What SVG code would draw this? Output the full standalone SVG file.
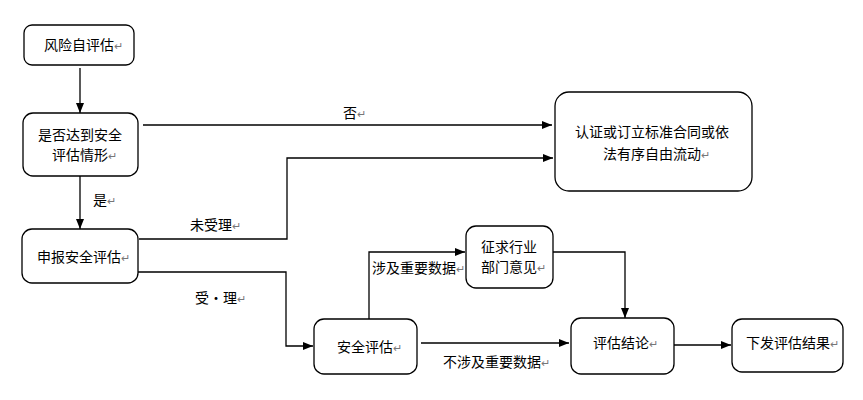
<svg xmlns="http://www.w3.org/2000/svg" width="863" height="400" viewBox="0 0 863 400">
<style>
.box{fill:#fff;stroke:#000;stroke-width:1.3}
.t{font-family:"Noto Sans CJK SC","Noto Sans",sans-serif;font-size:14px;fill:#000}
.r{font-size:11px;fill:#777}
.c{fill:none;stroke:#000;stroke-width:1.3}
</style>
<defs>
<marker id="ah" viewBox="0 0 10 10" refX="10" refY="5" markerWidth="10" markerHeight="10" markerUnits="userSpaceOnUse" orient="auto">
<path d="M0,1 L10,5 L0,9 z" fill="#000"/>
</marker>
</defs>
<rect width="863" height="400" fill="#fff"/>
<g id="connectors">
<path class="c" d="M80,68 V113" marker-end="url(#ah)"/>
<path class="c" d="M143,125 H552" marker-end="url(#ah)"/>
<path class="c" d="M80,176 V229" marker-end="url(#ah)"/>
<path class="c" d="M139,239 H287 V158 H553" marker-end="url(#ah)"/>
<path class="c" d="M138,272 H286 V346 H313" marker-end="url(#ah)"/>
<path class="c" d="M369,319 V252 H465" marker-end="url(#ah)"/>
<path class="c" d="M553,252 H625 V318" marker-end="url(#ah)"/>
<path class="c" d="M421,343 H569" marker-end="url(#ah)"/>
<path class="c" d="M674,345 H731" marker-end="url(#ah)"/>
<text class="t" x="343" y="118">否<tspan class="r">↵</tspan></text>
<text class="t" x="93" y="205">是<tspan class="r">↵</tspan></text>
<text class="t" x="190" y="230">未受理<tspan class="r">↵</tspan></text>
<text class="t" x="195" y="303">受·理<tspan class="r">↵</tspan></text>
<text class="t" x="372" y="273">涉及重要数据<tspan class="r">↵</tspan></text>
<text class="t" x="443" y="367">不涉及重要数据<tspan class="r">↵</tspan></text>
</g>
<g id="n1">
<rect class="box" x="24" y="25" width="110" height="40" rx="8"/>
<text class="t" x="44" y="50">风险自评估<tspan class="r">↵</tspan></text>
</g>
<g id="n2">
<rect class="box" x="23" y="113" width="115" height="63" rx="10"/>
<text class="t" x="38" y="140">是否达到安全</text>
<text class="t" x="52" y="160">评估情形<tspan class="r">↵</tspan></text>
</g>
<g id="n3">
<rect class="box" x="22" y="229" width="116" height="54" rx="10"/>
<text class="t" x="37" y="262">申报安全评估<tspan class="r">↵</tspan></text>
</g>
<g id="n4">
<rect class="box" x="314" y="319" width="103" height="55" rx="10"/>
<text class="t" x="337" y="352">安全评估<tspan class="r">↵</tspan></text>
</g>
<g id="n5">
<rect class="box" x="466" y="226" width="87" height="62" rx="10"/>
<text class="t" x="481" y="252">征求行业</text>
<text class="t" x="481" y="272">部门意见<tspan class="r">↵</tspan></text>
</g>
<g id="n6">
<rect class="box" x="571" y="318" width="103" height="56" rx="10"/>
<text class="t" x="593" y="348">评估结论<tspan class="r">↵</tspan></text>
</g>
<g id="n7">
<rect class="box" x="732" y="319" width="111" height="53" rx="10"/>
<text class="t" x="746" y="348">下发评估结果<tspan class="r">↵</tspan></text>
</g>
<g id="n8">
<rect class="box" x="555" y="92" width="197" height="99" rx="14"/>
<text class="t" x="575" y="137">认证或订立标准合同或依</text>
<text class="t" x="603" y="159">法有序自由流动<tspan class="r">↵</tspan></text>
</g>
</svg>
